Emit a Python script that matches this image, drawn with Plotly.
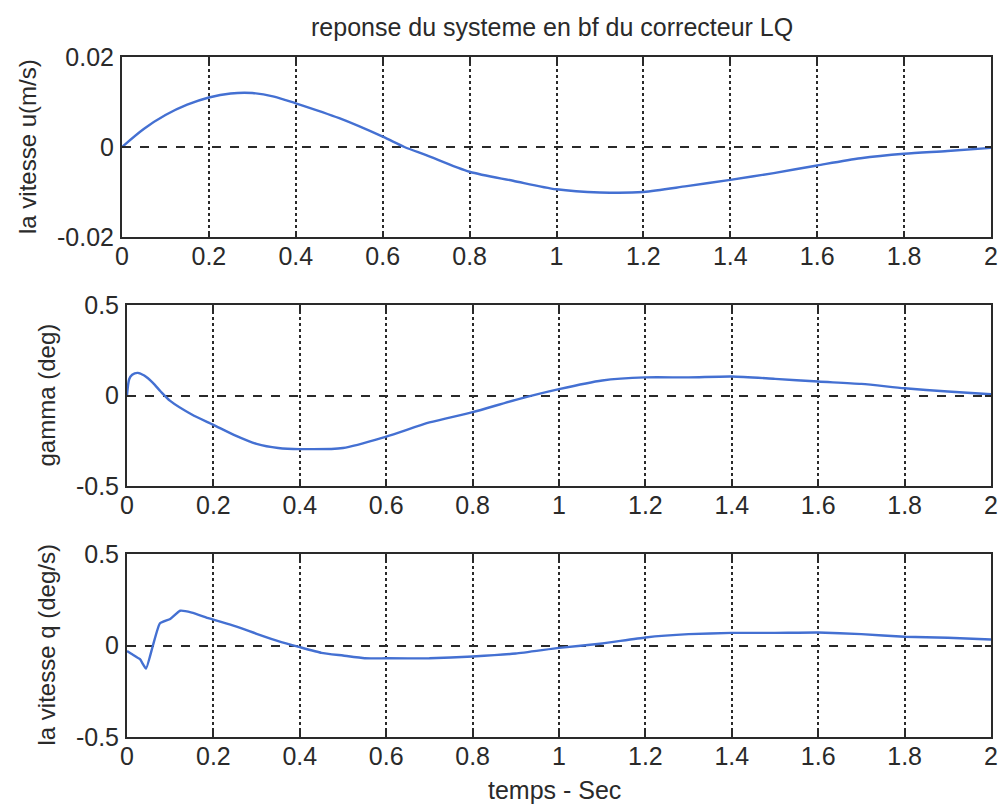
import plotly.graph_objects as go

# ---------------- data ----------------
t_u = [0, 0.05, 0.1, 0.15, 0.2, 0.25, 0.3, 0.35, 0.4, 0.5, 0.6, 0.65, 0.7, 0.8, 0.9,
       1.0, 1.1, 1.2, 1.3, 1.4, 1.5, 1.6, 1.7, 1.8, 1.9, 2.0]
u = [0, 0.0040, 0.0071, 0.0094, 0.0110, 0.0119, 0.0120, 0.0112, 0.0097, 0.0064, 0.0023,
     0.0000, -0.0018, -0.0055, -0.0075, -0.0094, -0.0101, -0.0100, -0.0087, -0.0073,
     -0.0058, -0.0041, -0.0025, -0.0015, -0.0009, -0.0002]

t_g = [0, 0.005, 0.012, 0.025, 0.04, 0.06, 0.078, 0.1, 0.15, 0.2, 0.25, 0.3, 0.35, 0.4,
       0.5, 0.6, 0.7, 0.8, 0.9, 1.0, 1.1, 1.2, 1.3, 1.4, 1.5, 1.6, 1.7, 1.8, 1.9, 2.0]
gamma = [0, 0.09, 0.115, 0.125, 0.11, 0.07, 0.022, -0.03, -0.105, -0.162, -0.22, -0.267,
         -0.29, -0.296, -0.29, -0.227, -0.149, -0.092, -0.024, 0.035, 0.083, 0.100, 0.100,
         0.105, 0.092, 0.077, 0.064, 0.040, 0.022, 0.007]

t_q = [0, 0.01, 0.03, 0.044, 0.06, 0.076, 0.1, 0.123, 0.15, 0.19, 0.25, 0.3, 0.35, 0.4,
       0.45, 0.5, 0.55, 0.6, 0.7, 0.8, 0.9, 1.0, 1.1, 1.2, 1.3, 1.4, 1.5, 1.6, 1.7, 1.8,
       1.9, 2.0]
q = [-0.03, -0.045, -0.075, -0.126, 0.0, 0.12, 0.145, 0.19, 0.18, 0.148, 0.106, 0.064,
     0.024, -0.009, -0.04, -0.055, -0.07, -0.07, -0.07, -0.06, -0.044, -0.013, 0.011,
     0.044, 0.062, 0.069, 0.069, 0.071, 0.062, 0.048, 0.042, 0.033]

x_tickvals = [0, 0.2, 0.4, 0.6, 0.8, 1, 1.2, 1.4, 1.6, 1.8, 2]
x_ticktext = ["0", "0.2", "0.4", "0.6", "0.8", "1", "1.2", "1.4", "1.6", "1.8", "2"]
u_tickvals = [-0.02, 0, 0.02]
u_ticktext = ["-0.02", "0", "0.02"]
ang_tickvals = [-0.5, 0, 0.5]
ang_ticktext = ["-0.5", "0", "0.5"]

title_text = "reponse du systeme en bf du correcteur LQ"
xlabel_text = "temps - Sec"
ylabels = ["la vitesse u(m/s)", "gamma (deg)", "la vitesse q (deg/s)"]

# ---------------- figure ----------------
W, H = 1001, 804
LINE = "#4470d2"
INK = "#2a2a2a"
FONT = "Liberation Sans, Arial, sans-serif"

fig = go.Figure()
series = [(t_u, u, 0.8), (t_g, gamma, 0.7), (t_q, q, 0.4)]
axes_names = [("x", "y"), ("x2", "y2"), ("x3", "y3")]
for (tx, ty, sm), (xa, ya) in zip(series, axes_names):
    fig.add_trace(go.Scatter(x=tx, y=ty, mode="lines", xaxis=xa, yaxis=ya,
                             line=dict(color=LINE, width=2.4, shape="spline",
                                       smoothing=sm),
                             showlegend=False, hoverinfo="skip"))

# pixel boxes: (left, right, top, bottom)
boxes = [(122, 991, 57, 237), (127, 991, 305, 486), (127, 991, 554, 737)]
yranges = [[-0.02, 0.02], [-0.5, 0.5], [-0.5, 0.5]]
ytv = [u_tickvals, ang_tickvals, ang_tickvals]
ytt = [u_ticktext, ang_ticktext, ang_ticktext]

common = dict(showline=True, linecolor=INK, linewidth=2, mirror="ticks",
              ticks="inside", ticklen=6, tickcolor=INK, tickwidth=1.5,
              showgrid=True, gridcolor=INK, gridwidth=1.6, zeroline=False,
              automargin=False,
              tickfont=dict(family=FONT, size=25, color=INK))

layout = dict(width=W, height=H, margin=dict(l=0, r=0, t=0, b=0, autoexpand=False),
              paper_bgcolor="white", plot_bgcolor="white", showlegend=False)
for i, (l, r, tp, bt) in enumerate(boxes):
    sfx = "" if i == 0 else str(i + 1)
    layout["xaxis" + sfx] = dict(common, domain=[l / W, r / W], range=[0, 2],
                                 tickvals=x_tickvals, ticktext=x_ticktext,
                                 griddash="dot", anchor="y" + sfx,
                                 ticklabelstandoff=-4)
    layout["yaxis" + sfx] = dict(common, domain=[1 - bt / H, 1 - tp / H],
                                 range=yranges[i], tickvals=ytv[i], ticktext=ytt[i],
                                 griddash="dash", anchor="x" + sfx,
                                 ticklabelstandoff=1)
fig.update_layout(**layout)

ann = []
ann.append(dict(text=title_text, x=552 / W, y=1 - 27 / H, xref="paper", yref="paper",
                xanchor="center", yanchor="middle", showarrow=False,
                font=dict(family=FONT, size=25, color=INK)))
ann.append(dict(text=xlabel_text, x=554 / W, y=1 - 790 / H, xref="paper", yref="paper",
                xanchor="center", yanchor="middle", showarrow=False,
                font=dict(family=FONT, size=25, color=INK)))
ylab_x = [27, 46, 46]
for i, (l, r, tp, bt) in enumerate(boxes):
    ann.append(dict(text=ylabels[i], x=ylab_x[i] / W, y=1 - ((tp + bt) / 2) / H,
                    xref="paper", yref="paper", xanchor="center", yanchor="middle",
                    textangle=-90, showarrow=False,
                    font=dict(family=FONT, size=24, color=INK)))
fig.update_layout(annotations=ann)

fig.write_html("out.html")
